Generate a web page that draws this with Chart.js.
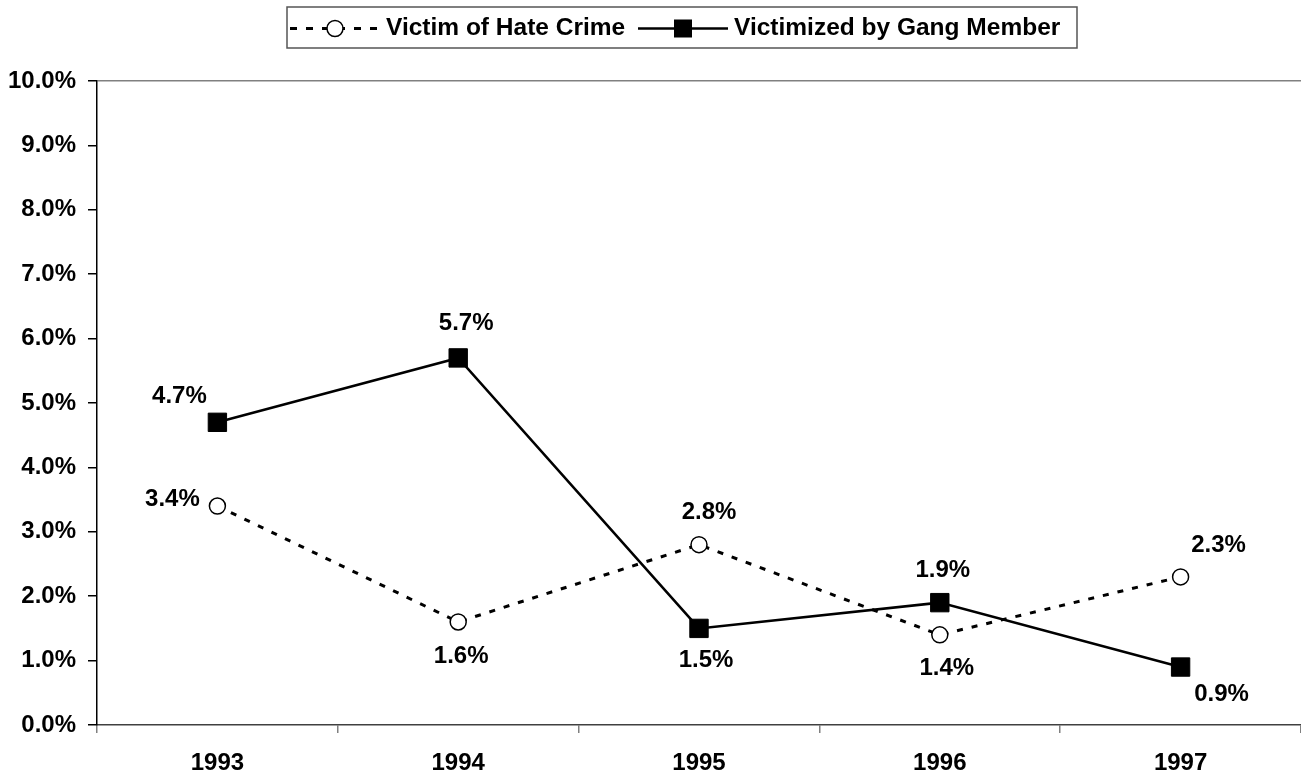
<!DOCTYPE html>
<html>
<head>
<meta charset="utf-8">
<script src="https://cdn.jsdelivr.net/npm/chart.js@4/dist/chart.umd.min.js"></script>
<style>
html, body { margin: 0; padding: 0; background: #fff; }
#wrap { width: 1301px; height: 776px; position: relative; }
</style>
</head>
<body>
<div id="wrap"><canvas id="chart"></canvas></div>
<script>
// === data ===
const years = ['1993', '1994', '1995', '1996', '1997'];
const hateCrime = [3.4, 1.6, 2.8, 1.4, 2.3];
const gangMember = [4.7, 5.7, 1.5, 1.9, 0.9];
const seriesNames = ['Victim of Hate Crime', 'Victimized by Gang Member'];
const yMin = 0, yMax = 10, yStep = 1;

const FONT = 'Liberation Sans, Arial, sans-serif';
const pct = v => v.toFixed(1) + '%';

// where each value label sits relative to its marker [dx, dy]
const labelOffsets = [
    [[-45, -7], [3, 34], [10, -32], [7, 34], [38, -32]],
    [[-38, -26], [8, -35], [7, 32], [3, -32], [41, 27]]
];

// value labels
const valueLabels = {
    id: 'valueLabels',
    afterDatasetsDraw(chart) {
        const ctx = chart.ctx;
        ctx.save();
        ctx.font = 'bold 24px ' + FONT;
        ctx.fillStyle = '#000';
        ctx.textAlign = 'center';
        ctx.textBaseline = 'middle';
        chart.data.datasets.forEach((ds, i) => {
            chart.getDatasetMeta(i).data.forEach((pt, j) => {
                const off = labelOffsets[i][j];
                ctx.fillText(pct(ds.data[j]), pt.x + off[0], pt.y + off[1]);
            });
        });
        ctx.restore();
    }
};

// boxed legend at the top, drawn by hand so the line styles show
const boxLegend = {
    id: 'boxLegend',
    afterDraw(chart) {
        const ctx = chart.ctx;
        const top = 7, h = 41, left = 287, w = 790;
        const cy = top + h / 2 + 1;
        ctx.save();
        ctx.strokeStyle = '#555';
        ctx.lineWidth = 1.5;
        ctx.strokeRect(left, top, w, h);

        // item 1: dashed line + open circle
        ctx.strokeStyle = '#000';
        ctx.lineWidth = 3;
        ctx.setLineDash([7, 9]);
        ctx.beginPath();
        ctx.moveTo(290, cy);
        ctx.lineTo(380, cy);
        ctx.stroke();
        ctx.setLineDash([]);
        ctx.beginPath();
        ctx.arc(335, cy, 8, 0, Math.PI * 2);
        ctx.fillStyle = '#fff';
        ctx.fill();
        ctx.lineWidth = 1.5;
        ctx.stroke();

        // item 2: solid line + filled square
        ctx.lineWidth = 2.5;
        ctx.beginPath();
        ctx.moveTo(638, cy);
        ctx.lineTo(728, cy);
        ctx.stroke();
        ctx.fillStyle = '#000';
        ctx.fillRect(683 - 9, cy - 9, 18, 18);

        ctx.font = 'bold 24.5px ' + FONT;
        ctx.textAlign = 'left';
        ctx.textBaseline = 'middle';
        ctx.fillText(seriesNames[0], 386, cy);
        ctx.fillText(seriesNames[1], 734, cy);
        ctx.restore();
    }
};

new Chart(document.getElementById('chart'), {
    type: 'line',
    data: {
        labels: years,
        datasets: [{
            label: seriesNames[0],
            data: hateCrime,
            borderColor: '#000',
            borderWidth: 3,
            borderDash: [6, 9],
            pointStyle: 'circle',
            pointRadius: 8,
            pointBackgroundColor: '#fff',
            pointBorderColor: '#000',
            pointBorderWidth: 1.5,
            tension: 0
        }, {
            label: seriesNames[1],
            data: gangMember,
            borderColor: '#000',
            borderWidth: 2.5,
            pointStyle: 'rect',
            pointRadius: 13,
            pointBackgroundColor: '#000',
            pointBorderColor: '#000',
            pointBorderWidth: 1,
            tension: 0
        }]
    },
    options: {
        responsive: true,
        maintainAspectRatio: false,
        animation: false,
        layout: { autoPadding: false, padding: { top: 81, left: 0, right: 0, bottom: 0 } },
        plugins: {
            legend: { display: false },
            tooltip: { enabled: false }
        },
        scales: {
            x: {
                type: 'category',
                offset: true,
                grid: {
                    offset: true,
                    drawOnChartArea: false,
                    tickLength: 8,
                    tickColor: '#808080',
                    lineWidth: 1.5
                },
                border: { color: '#404040', width: 1.5 },
                ticks: {
                    color: '#000',
                    padding: 16,
                    font: { family: FONT, size: 24, weight: 'bold' }
                },
                afterFit(scale) { scale.height = 51; }
            },
            y: {
                min: yMin,
                max: yMax,
                grid: {
                    drawOnChartArea: true,
                    color: c => (c.tick && c.tick.value === yMax) ? '#808080' : 'rgba(0,0,0,0)',
                    lineWidth: 1.5,
                    tickLength: 9,
                    tickColor: '#000'
                },
                border: { color: '#000', width: 1.5 },
                ticks: {
                    stepSize: yStep,
                    color: '#000',
                    padding: 12,
                    font: { family: FONT, size: 24, weight: 'bold' },
                    callback: v => pct(v)
                },
                afterFit(scale) { scale.width = 97; }
            }
        }
    },
    plugins: [valueLabels, boxLegend]
});
</script>
</body>
</html>
